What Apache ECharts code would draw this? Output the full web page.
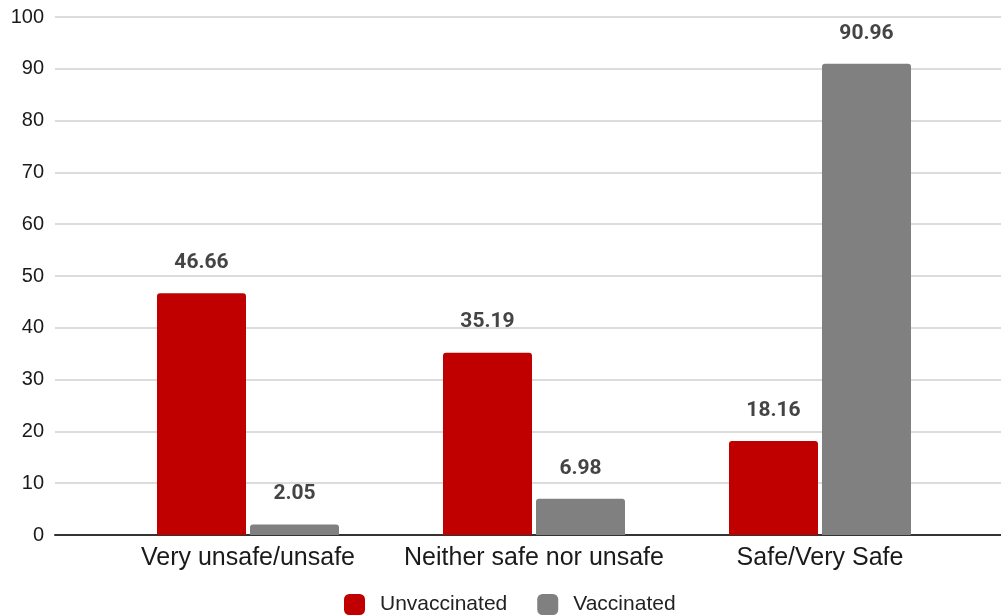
<!DOCTYPE html>
<html>
<head>
<meta charset="utf-8">
<script src="https://cdn.jsdelivr.net/npm/echarts@6/dist/echarts.min.js"></script>
<style>
  html, body { margin: 0; padding: 0; background: #ffffff; }
  #chart { width: 1001px; height: 616px; }
</style>
</head>
<body>
<div id="chart"></div>
<script>
// Perceived safety by vaccination status (percent of respondents)
const categories = ['Very unsafe/unsafe', 'Neither safe nor unsafe', 'Safe/Very Safe'];
const unvaccinated = [46.66, 35.19, 18.16];
const vaccinated = [2.05, 6.98, 90.96];
const seriesNames = ['Unvaccinated', 'Vaccinated'];

const RED = '#c00000';
const GRAY = '#808080';
const TOP = 17, BOTTOM = 81;

const valueLabel = {
  show: true,
  position: 'top',
  distance: 20,
  fontFamily: 'Roboto',
  fontWeight: 'bold',
  fontSize: 21,
  color: '#444444',
  formatter: p => p.value.toFixed(2)
};

const chart = echarts.init(document.getElementById('chart'), null, { renderer: 'canvas' });
chart.setOption({
  animation: false,
  textStyle: { fontFamily: 'Liberation Sans' },
  legend: {
    data: seriesNames,
    bottom: 1,
    left: 344,
    padding: 0,
    itemWidth: 21,
    itemHeight: 21,
    itemGap: 30,
    icon: 'roundRect',
    textStyle: { fontSize: 21, color: '#222222', fontFamily: 'Liberation Sans', padding: [0, 0, 0, 10] }
  },
  grid: [
    // background grid: gridlines and baseline across the full width
    { left: 55, right: 0, top: TOP, bottom: BOTTOM },
    // inner band holding the bars
    { left: 105, right: 38, top: TOP, bottom: BOTTOM }
  ],
  xAxis: [
    {
      gridIndex: 0, type: 'category', data: categories,
      axisLine: { show: true, lineStyle: { color: '#333333', width: 2 } },
      axisTick: { show: false }, axisLabel: { show: false }, splitLine: { show: false }
    },
    {
      gridIndex: 1, type: 'category', data: categories,
      axisLine: { show: false }, axisTick: { show: false },
      axisLabel: { interval: 0, hideOverlap: false, fontSize: 25, color: '#1a1a1a', margin: 11, fontFamily: 'Liberation Sans' }
    }
  ],
  yAxis: [
    {
      gridIndex: 0, type: 'value', min: 0, max: 100, interval: 10,
      axisLine: { show: false }, axisTick: { show: false },
      axisLabel: { fontSize: 20, color: '#1a1a1a', margin: 11, fontFamily: 'Liberation Sans' },
      splitLine: { lineStyle: { color: '#d0d0d0', width: 1.5 } }
    },
    {
      gridIndex: 1, type: 'value', min: 0, max: 100, interval: 10,
      axisLine: { show: false }, axisTick: { show: false },
      axisLabel: { show: false }, splitLine: { show: false }
    }
  ],
  series: [
    {
      name: seriesNames[0], type: 'bar', xAxisIndex: 1, yAxisIndex: 1,
      data: unvaccinated, barWidth: 89, barGap: '4.5%',
      itemStyle: { color: RED, borderRadius: [3, 3, 0, 0] },
      label: valueLabel, z: 3
    },
    {
      name: seriesNames[1], type: 'bar', xAxisIndex: 1, yAxisIndex: 1,
      data: vaccinated, barWidth: 89, barGap: '4.5%',
      itemStyle: { color: GRAY, borderRadius: [3, 3, 0, 0] },
      label: valueLabel, z: 3
    }
  ]
});
</script>
</body>
</html>
